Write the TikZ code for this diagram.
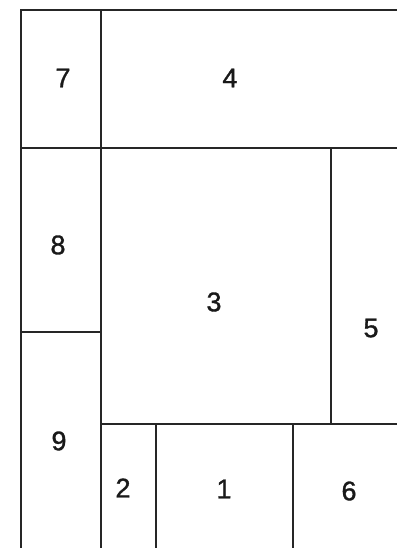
\documentclass[tikz,border=0pt]{standalone}
\usepackage{fontspec}
\setmainfont{Liberation Sans}
\newfontfamily\lblfont[FakeBold=1.2]{Liberation Sans}
\begin{document}
\begin{tikzpicture}[x=1pt,y=-1pt,
  wall/.style={draw=black!85,line width=1.1pt},
  lbl/.style={font=\lblfont\fontsize{27}{29}\selectfont,text=black!90,inner sep=0pt}]
\useasboundingbox (0,0) rectangle (397,548);
% outer and main walls
\draw[wall] (21,548) -- (21,10) -- (397,10);
\draw[wall] (101,10) -- (101,548);
\draw[wall] (21,148) -- (397,148);
\draw[wall] (21,332) -- (101,332);
\draw[wall] (331,148) -- (331,424);
\draw[wall] (101,424) -- (397,424);
\draw[wall] (156,424) -- (156,548);
\draw[wall] (293,424) -- (293,548);
% labels
\node[lbl] (n7) at (63,78) {7};
\node[lbl] (n4) at (230,78) {4};
\node[lbl] (n8) at (58,245) {8};
\node[lbl] (n3) at (214,302) {3};
\node[lbl] (n5) at (371,328) {5};
\node[lbl] (n9) at (59,441) {9};
\node[lbl] (n2) at (123,488) {2};
\node[lbl] (n1) at (224,489) {1};
\node[lbl] (n6) at (349,491) {6};
\end{tikzpicture}
\end{document}
